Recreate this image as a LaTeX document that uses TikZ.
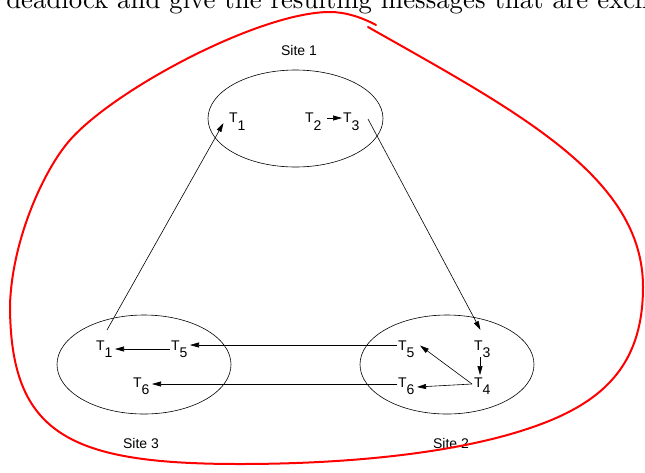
\documentclass[tikz,border=0pt]{standalone}
\usepackage{fontspec}
\usepackage{graphicx}
\newfontfamily\lsans{Liberation Sans}
\usetikzlibrary{arrows.meta,shapes.geometric}
\begin{document}
\begin{tikzpicture}[x=1pt,y=-1pt, line width=0.6pt,
  tlab/.style={anchor=base west, inner sep=0pt, font=\lsans\fontsize{14}{14}\selectfont},
  sitelab/.style={inner sep=0pt, font=\lsans\fontsize{14}{14}\selectfont},
  siteell/.style={draw, ellipse, inner sep=0pt},
  msg/.style={-{Triangle[length=9pt,width=5pt]}},
  redloop/.style={draw=red, line width=2pt, line cap=round, line join=round}]
\useasboundingbox (0,0) rectangle (645,472);
\clip (0,0) rectangle (645,472);

% cropped line of text from the page above
\node[anchor=base west, inner sep=0pt] (toptext) at (6,8.5)
  {\scalebox{2.68}{deadlock and give the resulting messages that are exch}};

% sites
\node[siteell, minimum width=175pt, minimum height=97pt] (site1) at (295.5,118.5) {};
\node[siteell, minimum width=174pt, minimum height=99pt] (site3) at (144,364.5) {};
\node[siteell, minimum width=174pt, minimum height=99pt] (site2) at (447,364.5) {};

\node[sitelab] (lab1) at (299,50) {Site 1};
\node[sitelab] (lab3) at (141,443) {Site 3};
\node[sitelab] (lab2) at (451,443) {Site 2};

% transactions
\node[tlab] (s1t1) at (228.7,122) {T\raisebox{-8pt}{1}};
\node[tlab] (s1t2) at (304.7,122) {T\raisebox{-8pt}{2}};
\node[tlab] (s1t3) at (342.7,122) {T\raisebox{-8pt}{3}};
\node[tlab] (s3t1) at (95.7,350) {T\raisebox{-7.5pt}{1}};
\node[tlab] (s3t5) at (170.7,350) {T\raisebox{-7.5pt}{5}};
\node[tlab] (s3t6) at (132.7,387) {T\raisebox{-7.5pt}{6}};
\node[tlab] (s2t5) at (397.7,350) {T\raisebox{-7.5pt}{5}};
\node[tlab] (s2t6) at (397.7,387) {T\raisebox{-7.5pt}{6}};
\node[tlab] (s2t3) at (473.7,350) {T\raisebox{-7.5pt}{3}};
\node[tlab] (s2t4) at (473.7,387) {T\raisebox{-7.5pt}{4}};

% wait-for edges
\draw[msg] ([shift={(11.3,-20)}]s3t1.base west) -- ([shift={(-5.2,1)}]s1t1.base west);
\draw[msg] ([shift={(25.3,-3)}]s1t3.base west) -- ([shift={(6.8,-20)}]s2t3.base west);
\draw[msg] ([shift={(22.3,-4)}]s1t2.base west) -- ([shift={(-0.7,-4)}]s1t3.base west);
\draw[msg] ([shift={(-0.7,-1)}]s3t5.base west) -- ([shift={(19.3,-1)}]s3t1.base west);
\draw[msg] ([shift={(-0.7,-5)}]s2t5.base west) -- ([shift={(19.3,-5)}]s3t5.base west);
\draw[msg] ([shift={(-0.7,-3)}]s2t6.base west) -- ([shift={(19.3,-3)}]s3t6.base west);
\draw[msg] ([shift={(6.3,7)}]s2t3.base west) -- ([shift={(6.3,-12)}]s2t4.base west);
\draw[msg] ([shift={(-1.7,-3)}]s2t4.base west) -- ([shift={(19.3,0)}]s2t6.base west);
\draw[msg] ([shift={(-1.7,-3)}]s2t4.base west) -- ([shift={(22.3,-4.5)}]s2t5.base west);

% hand-drawn red loop
\draw[redloop] (368,27) .. controls (518,112) and (643,177) .. (643,287)
  .. controls (643,377) and (590,413) .. (500,437)
  .. controls (420,458) and (320,464) .. (240,464)
  .. controls (70,464) and (10,435) .. (10,305)
  .. controls (12,240) and (43.6,170) .. (70,140)
  .. controls (115,89) and (260,12) .. (330,12)
  .. controls (345,12) and (361,17) .. (376,25);
\end{tikzpicture}
\end{document}
